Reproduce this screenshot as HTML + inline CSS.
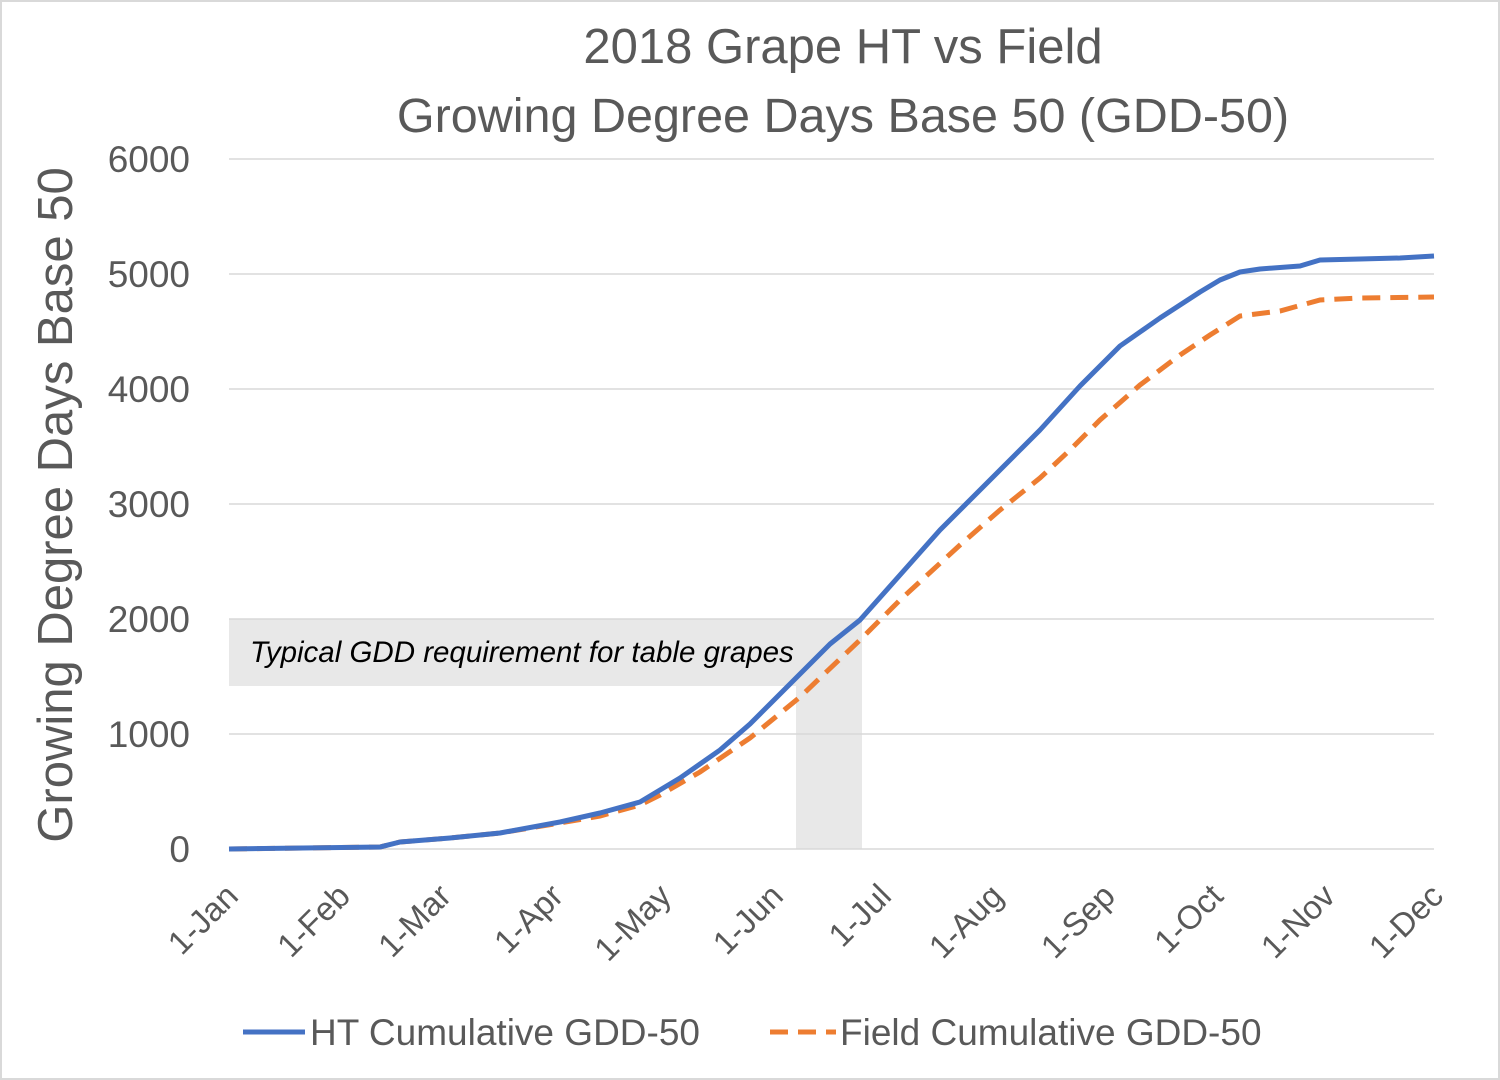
<!DOCTYPE html>
<html><head><meta charset="utf-8"><style>
html,body{margin:0;padding:0;background:#fff;}
svg{display:block;font-family:"Liberation Sans","DejaVu Sans",sans-serif;}
</style></head><body>
<svg width="1500" height="1080" viewBox="0 0 1500 1080">
<rect x="1" y="1" width="1498" height="1078" fill="#fff" stroke="#d9d9d9" stroke-width="2"/>
<text x="843" y="63" text-anchor="middle" font-size="49" fill="#595959">2018 Grape HT vs Field</text>
<text x="843" y="132" text-anchor="middle" font-size="48.5" fill="#595959">Growing Degree Days Base 50 (GDD-50)</text>
<g stroke="#d9d9d9" stroke-width="1.5">
<line x1="229" y1="159" x2="1434" y2="159"/><line x1="229" y1="274" x2="1434" y2="274"/>
<line x1="229" y1="389" x2="1434" y2="389"/><line x1="229" y1="504" x2="1434" y2="504"/>
<line x1="229" y1="619" x2="1434" y2="619"/><line x1="229" y1="734" x2="1434" y2="734"/>
<line x1="229" y1="849" x2="1434" y2="849"/></g>
<g font-size="37" fill="#595959" text-anchor="end">
<text x="190" y="172">6000</text><text x="190" y="287">5000</text><text x="190" y="402">4000</text>
<text x="190" y="517">3000</text><text x="190" y="632">2000</text><text x="190" y="747">1000</text><text x="190" y="862">0</text></g>
<text transform="translate(72,505) rotate(-90)" text-anchor="middle" font-size="49" fill="#595959">Growing Degree Days Base 50</text>
<rect x="229" y="619" width="633" height="67" fill="#d9d9d9" opacity="0.6"/>
<rect x="796" y="686" width="66" height="163" fill="#d9d9d9" opacity="0.6"/>
<text x="250" y="662" font-size="29.5" font-style="italic" fill="#000">Typical GDD requirement for table grapes</text>
<polyline fill="none" stroke="#ed7d31" stroke-width="5" stroke-dasharray="18,10" points="229,849 380,847 400,842 450,838 500,833 560,823 600,816 640,805 660,795 700,772 750,738 800,697 860,640 900,600 960,545 1000,510 1040,478 1070,450 1100,420 1140,385 1180,355 1210,335 1240,316 1280,311 1320,300 1360,298 1434,297"/>
<polyline fill="none" stroke="#4472c4" stroke-width="5" stroke-linejoin="round" points="229,849 380,847 400,842 450,838 500,833 560,822 600,813 640,802 660,790 680,778 720,750 750,724 790,684 830,644 860,620 900,575 940,530 980,490 1000,470 1040,430 1080,386 1120,346 1160,318 1180,305 1200,292 1220,280 1240,272 1260,269 1300,266 1320,260 1360,259 1400,258 1434,256"/>
<g font-size="33" fill="#595959" text-anchor="end">
<text transform="translate(240,898) rotate(-45)">1-Jan</text>
<text transform="translate(352,898) rotate(-45)">1-Feb</text>
<text transform="translate(453,898) rotate(-45)">1-Mar</text>
<text transform="translate(565,898) rotate(-45)">1-Apr</text>
<text transform="translate(673,898) rotate(-45)">1-May</text>
<text transform="translate(785,898) rotate(-45)">1-Jun</text>
<text transform="translate(893,898) rotate(-45)">1-Jul</text>
<text transform="translate(1005,898) rotate(-45)">1-Aug</text>
<text transform="translate(1117,898) rotate(-45)">1-Sep</text>
<text transform="translate(1225,898) rotate(-45)">1-Oct</text>
<text transform="translate(1337,898) rotate(-45)">1-Nov</text>
<text transform="translate(1445,898) rotate(-45)">1-Dec</text></g>
<line x1="243" y1="1032" x2="305" y2="1032" stroke="#4472c4" stroke-width="5"/>
<text x="310" y="1045" font-size="37" fill="#595959">HT Cumulative GDD-50</text>
<line x1="770" y1="1032" x2="836" y2="1032" stroke="#ed7d31" stroke-width="5" stroke-dasharray="18,10"/>
<text x="840" y="1045" font-size="37" fill="#595959">Field Cumulative GDD-50</text>
</svg>
</body></html>
